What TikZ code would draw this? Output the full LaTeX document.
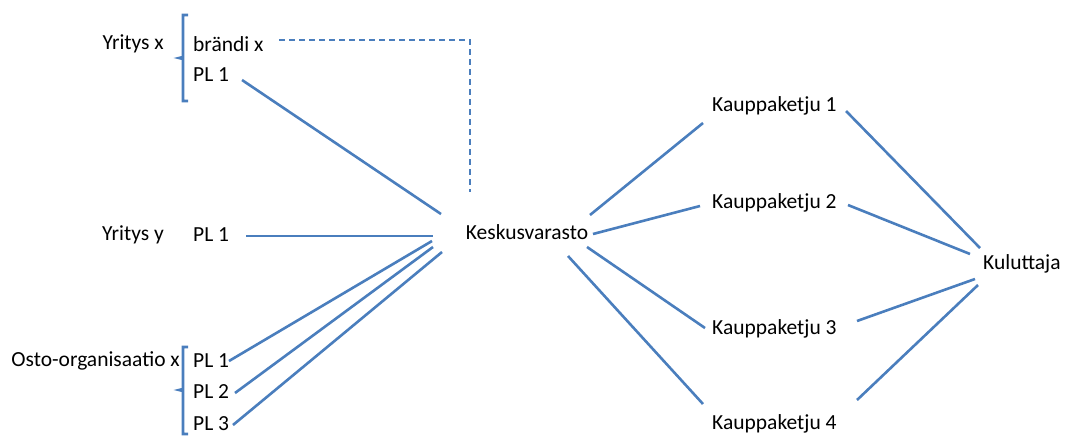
\documentclass[tikz,border=0pt]{standalone}
\usepackage{fontspec}
\setmainfont{Carlito}
\definecolor{lineblue}{RGB}{74,126,189}
\begin{document}
\begin{tikzpicture}[x=1pt,y=-1pt,
  conn/.style={draw=lineblue,line width=2.6pt},
  dconn/.style={draw=lineblue,line width=2.6pt,dash pattern=on 6pt off 4pt},
  lbl/.style={font=\fontsize{21.5}{24}\selectfont,inner sep=0pt,text=black},
  brak/.style={draw=lineblue,line width=2.6pt}]
\useasboundingbox (0,0) rectangle (1070,437);
% texts
\node[lbl,anchor=east] (yx) at (164,44) {Yritys x};
\node[lbl,anchor=west] (brx) at (193,44) {brändi x};
\node[lbl,anchor=west] (xp1) at (193,75) {PL 1};
\node[lbl,anchor=east] (yy) at (164,235) {Yritys y};
\node[lbl,anchor=west] (yp1) at (193,235) {PL 1};
\node[lbl,anchor=east] (oo) at (180,361) {Osto-organisaatio x};
\node[lbl,anchor=west] (op1) at (193,361) {PL 1};
\node[lbl,anchor=west] (op2) at (193,392) {PL 2};
\node[lbl,anchor=west] (op3) at (193,424) {PL 3};
\node[lbl] (kv) at (527,232) {Keskusvarasto};
\node[lbl,anchor=west] (k1) at (712,106) {Kauppaketju 1};
\node[lbl,anchor=west] (k2) at (712,203) {Kauppaketju 2};
\node[lbl,anchor=west] (k3) at (712,329) {Kauppaketju 3};
\node[lbl,anchor=west] (k4) at (712,424) {Kauppaketju 4};
\node[lbl,anchor=west] (ku) at (983,264) {Kuluttaja};
% brackets
\draw[brak] (188,15) -- (183,15) -- (183,57) -- (179,58) -- (183,59) -- (183,101) -- (188,101);
\draw[brak] (188,347) -- (183,347) -- (183,389) -- (179,390) -- (183,391) -- (183,434) -- (188,434);
% connector end points
\coordinate (a1) at (242,80);  \coordinate (b1) at (441,214);
\coordinate (a2) at (246,236); \coordinate (b2) at (433,236);
\coordinate (a3) at (229,361); \coordinate (b3) at (432,241);
\coordinate (a4) at (235,393); \coordinate (b4) at (433,247);
\coordinate (a5) at (233,425); \coordinate (b5) at (442,252);
\coordinate (d1) at (279,40); \coordinate (d2) at (470,40); \coordinate (d3) at (470,192);
\coordinate (c1) at (590,215); \coordinate (e1) at (703,123);
\coordinate (c2) at (593,234); \coordinate (e2) at (700,206);
\coordinate (c3) at (587,247); \coordinate (e3) at (705,328);
\coordinate (c4) at (568,256); \coordinate (e4) at (703,404);
\coordinate (f1) at (846,111); \coordinate (g1) at (980,248);
\coordinate (f2) at (848,205); \coordinate (g2) at (970,254);
\coordinate (f3) at (857,321); \coordinate (g3) at (975,279);
\coordinate (f4) at (857,400); \coordinate (g4) at (978,285);
\draw[conn] (a1) -- (b1);
\draw[conn] (a2) -- (b2);
\draw[conn] (a3) -- (b3);
\draw[conn] (a4) -- (b4);
\draw[conn] (a5) -- (b5);
\draw[dconn] (d1) -- (d2) -- (d3);
\draw[conn] (c1) -- (e1);
\draw[conn] (c2) -- (e2);
\draw[conn] (c3) -- (e3);
\draw[conn] (c4) -- (e4);
\draw[conn] (f1) -- (g1);
\draw[conn] (f2) -- (g2);
\draw[conn] (f3) -- (g3);
\draw[conn] (f4) -- (g4);
\end{tikzpicture}
\end{document}
